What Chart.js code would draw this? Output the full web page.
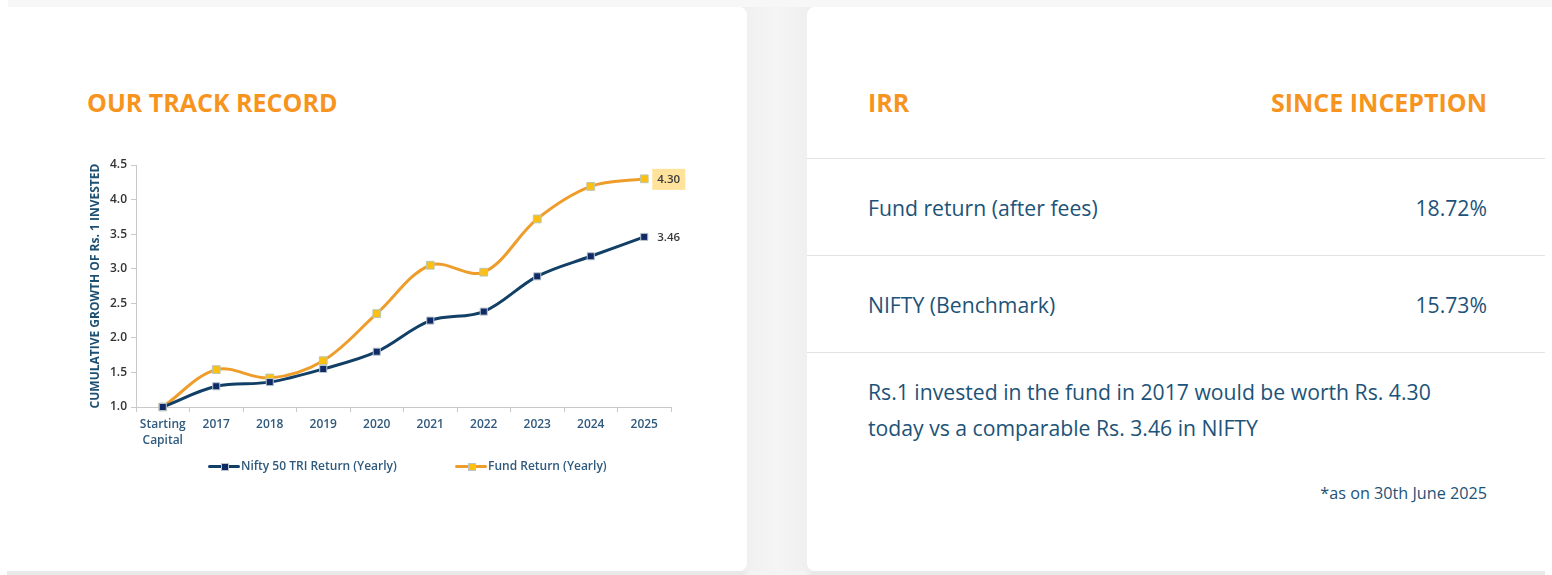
<!DOCTYPE html>
<html>
<head>
<meta charset="utf-8">
<title>Our Track Record</title>
<script src="https://cdn.jsdelivr.net/npm/chart.js@4"></script>
<style>
    html, body { margin: 0; padding: 0; }
    body { width: 1552px; height: 575px; overflow: hidden; position: relative; background: #fff; font-family: "Open Sans", sans-serif; }
    .strip { position: absolute; }
    #strip-top { left: 8px; right: 0; top: 0; height: 7px; background: #f7f7f7; }
    #strip-bottom { left: 7px; width: 1538px; top: 571px; height: 4px; background: linear-gradient(90deg, #e9e9e9 47.8%, #f4f4f4 48.4%, #f4f4f4 51.8%, #e9e9e9 52.4%); }
    #gutter { left: 740px; width: 74px; top: 7px; height: 564px; background: linear-gradient(90deg, #efefef, #f5f5f5 50%, #eeeeee); }
    .card { position: absolute; top: 7px; height: 564px; background: #fff; border-radius: 8px; }
    #left-card { left: 7px; width: 740px; }
    #right-card { left: 807px; width: 738px; }
    .heading { position: absolute; font-size: 25px; font-weight: 700; color: #f7941d; line-height: 32px; white-space: nowrap; }
    .row-text { position: absolute; font-size: 21.2px; color: #1d5378; line-height: 28px; white-space: nowrap; }
    .rule { position: absolute; left: 0; width: 738px; height: 1px; background: #e1e4e6; }
    #chart-box { position: absolute; left: 80px; top: 151px; width: 655px; height: 330px; }
    .legend-item { position: absolute; top: 457px; height: 18px; line-height: 18px; font-size: 12px; font-weight: 600; color: #2f5a7d; white-space: nowrap; padding-left: 33px; }
    .legend-line { position: absolute; left: 0; top: 8px; width: 32px; height: 3px; border-radius: 2px; }
    .legend-box { position: absolute; left: 13px; top: 6px; width: 6px; height: 6px; border: 1px solid #b9c6cc; }
</style>
</head>
<body>
<div class="strip" id="strip-top"></div>
<div class="strip" id="strip-bottom"></div>
<div class="strip" id="gutter"></div>
<div class="card" id="left-card"></div>
<div class="card" id="right-card">
    <div class="heading" style="left:61px;top:79px">IRR</div>
    <div class="heading" style="right:58px;top:79px">SINCE INCEPTION</div>
    <div class="rule" style="top:151px"></div>
    <div class="row-text" style="left:61px;top:187px">Fund return (after fees)</div>
    <div class="row-text" style="right:58px;top:187px">18.72%</div>
    <div class="rule" style="top:248px"></div>
    <div class="row-text" style="left:61px;top:284px">NIFTY (Benchmark)</div>
    <div class="row-text" style="right:58px;top:284px">15.73%</div>
    <div class="rule" style="top:345px"></div>
    <div class="row-text" style="left:61px;top:367px;line-height:36px">Rs.1 invested in the fund in 2017 would be worth Rs. 4.30<br>today vs a comparable Rs. 3.46 in NIFTY</div>
    <div class="row-text" style="right:58px;top:472px;font-size:16.2px">*as on 30th June 2025</div>
</div>
<div class="heading" style="left:87px;top:86px">OUR TRACK RECORD</div>
<div id="chart-box"><canvas id="trackChart"></canvas></div>
<div class="legend-item" id="legend-nifty" style="left:208px"></div>
<div class="legend-item" id="legend-fund" style="left:455px"></div>

<script>
const categories = [['Starting', 'Capital'], '2017', '2018', '2019', '2020', '2021', '2022', '2023', '2024', '2025'];
const niftyValues = [1.00, 1.30, 1.36, 1.55, 1.80, 2.25, 2.38, 2.89, 3.18, 3.46];
const fundValues = [1.00, 1.54, 1.42, 1.67, 2.35, 3.05, 2.95, 3.72, 4.19, 4.30];
const niftyLabel = 'Nifty 50 TRI Return (Yearly)';
const fundLabel = 'Fund Return (Yearly)';
const yTitle = 'CUMULATIVE GROWTH OF Rs. 1 INVESTED';

const navy = '#123f66';
const orange = '#ee9d2b';
const navyBox = '#0f2a66';
const orangeBox = '#fdbf10';

// html legend, the line + square swatch is not something the built in one can draw
function fillLegend(id, text, lineColor, boxColor) {
    const el = document.getElementById(id);
    el.innerHTML = '<span class="legend-line" style="background:' + lineColor + '"></span>' +
        '<span class="legend-box" style="background:' + boxColor + '"></span>';
    el.appendChild(document.createTextNode(text));
}
fillLegend('legend-nifty', niftyLabel, navy, navyBox);
fillLegend('legend-fund', fundLabel, orange, orangeBox);

// value labels next to the last point of each line
const endLabels = {
    id: 'endLabels',
    afterDatasetsDraw(chart) {
        const ctx = chart.ctx;
        ctx.save();
        ctx.font = '600 11.5px "Open Sans"';
        ctx.textBaseline = 'middle';
        ctx.textAlign = 'left';
        chart.data.datasets.forEach((ds, i) => {
            const pt = chart.getDatasetMeta(i).data[ds.data.length - 1];
            const text = ds.data[ds.data.length - 1].toFixed(2);
            if (i === 1) {
                ctx.fillStyle = '#ffe39c';
                ctx.fillRect(pt.x + 8, pt.y - 10, 33, 21);
            }
            ctx.fillStyle = '#3a3a3a';
            ctx.fillText(text, pt.x + 13, pt.y + 0.5);
        });
        ctx.restore();
    }
};

new Chart(document.getElementById('trackChart').getContext('2d'), {
    type: 'line',
    plugins: [endLabels],
    data: {
        labels: categories,
        datasets: [{
            label: niftyLabel,
            data: niftyValues,
            borderColor: navy,
            borderWidth: 3,
            tension: 0.35,
            clip: false,
            pointStyle: 'rect',
            pointRadius: 5,
            pointBackgroundColor: navyBox,
            pointBorderColor: '#b9c6cc',
            pointBorderWidth: 1
        }, {
            label: fundLabel,
            data: fundValues,
            borderColor: orange,
            borderWidth: 3,
            tension: 0.35,
            clip: false,
            pointStyle: 'rect',
            pointRadius: 5.5,
            pointBackgroundColor: orangeBox,
            pointBorderColor: '#b9c6b4',
            pointBorderWidth: 1
        }]
    },
    options: {
        responsive: true,
        maintainAspectRatio: false,
        animation: false,
        layout: { padding: { top: 14, right: 64 } },
        plugins: {
            tooltip: { enabled: false },
            legend: { display: false }
        },
        scales: {
            x: {
                offset: true,
                afterFit(scale) { scale.height = 74; },
                border: { color: '#c9c9c9' },
                grid: { offset: true, drawOnChartArea: false, color: '#c9c9c9', tickLength: 5 },
                ticks: {
                    color: '#2f5a7d',
                    padding: 4,
                    maxRotation: 0,
                    autoSkip: false,
                    font: { family: '"Open Sans"', size: 12, weight: '600', lineHeight: 1.35 }
                }
            },
            y: {
                min: 1,
                max: 4.5,
                afterFit(scale) { scale.width = 56; },
                border: { color: '#c9c9c9' },
                grid: { drawOnChartArea: false, color: '#c9c9c9', tickLength: 5 },
                title: {
                    display: true,
                    text: yTitle,
                    color: '#1d4f72',
                    padding: { top: 8, bottom: 0 },
                    font: { family: '"Open Sans"', size: 12, weight: '700' }
                },
                ticks: {
                    stepSize: 0.5,
                    color: '#333333',
                    padding: 4,
                    callback: v => v.toFixed(1),
                    font: { family: '"Open Sans"', size: 12, weight: '600' }
                }
            }
        }
    }
});
</script>
</body>
</html>
